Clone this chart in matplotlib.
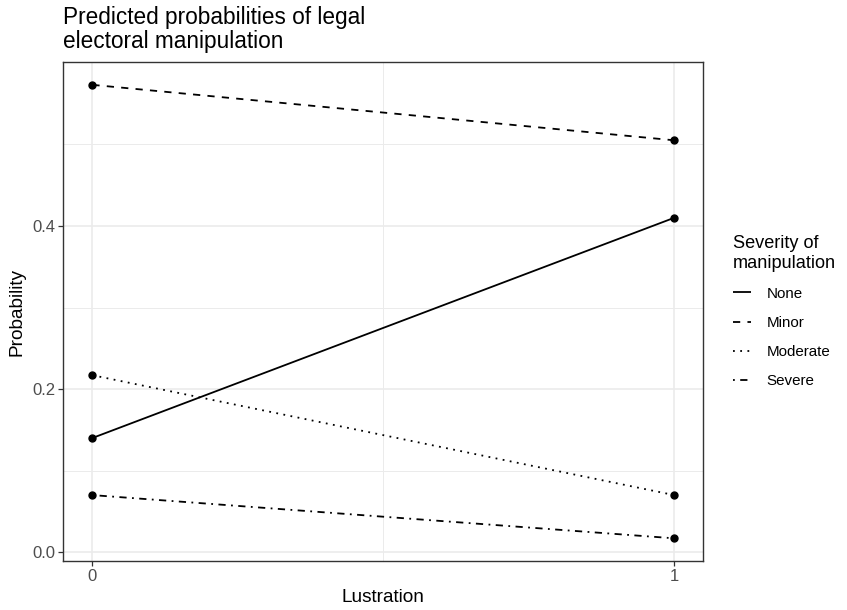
import matplotlib
matplotlib.use("Agg")
import matplotlib.pyplot as plt
from matplotlib.ticker import FixedLocator

plt.rcParams['font.family'] = ['Liberation Sans', 'DejaVu Sans']

# Data
lustration = [0, 1]
categories = ["None", "Minor", "Moderate", "Severe"]
none_vals = [0.140, 0.410]
minor_vals = [0.573, 0.505]
moderate_vals = [0.217, 0.070]
severe_vals = [0.070, 0.017]
series = [none_vals, minor_vals, moderate_vals, severe_vals]
x_ticks = [0, 1]
y_ticks = [0.0, 0.2, 0.4]

styles = ['-', (0, (4, 4)), (0, (1, 3)), (0, (1, 3, 4, 3))]

fig = plt.figure(figsize=(8.47, 6.10), dpi=100)
ax = fig.add_axes([63.3 / 847, 1 - 561 / 610, (703.3 - 63.3) / 847, (561 - 62) / 610])

ax.set_xlim(-0.05, 1.05)
ax.set_ylim(-0.0108, 0.601)

# grid
ax.set_xticks(x_ticks)
ax.set_yticks(y_ticks)
ax.xaxis.set_minor_locator(FixedLocator([0.5]))
ax.yaxis.set_minor_locator(FixedLocator([0.1, 0.3, 0.5]))
ax.grid(which='major', color='#EBEBEB', linewidth=1.2)
ax.grid(which='minor', color='#EBEBEB', linewidth=0.7)
ax.set_axisbelow(True)
ax.tick_params(which='minor', length=0)
ax.tick_params(which='major', length=3.5, width=0.9, color='#333333',
               labelcolor='#4D4D4D', labelsize=12, pad=2)
ax.set_xticklabels(['0', '1'])
ax.set_yticklabels(['0.0', '0.2', '0.4'])
for s in ax.spines.values():
    s.set_color('#333333')
    s.set_linewidth(1.0)

for cat, vals, ls in zip(categories, series, styles):
    ax.plot(lustration, vals, linestyle=ls, color='black', linewidth=1.3,
            solid_capstyle='butt', dash_capstyle='butt', label=cat)
    ax.plot(lustration, vals, linestyle='none', marker='o', color='black',
            markersize=5)

ax.set_xlabel('Lustration', fontsize=13.7, labelpad=4)
ax.set_ylabel('Probability', fontsize=13.7, labelpad=5)

fig.text(63 / 847, 1 - 6 / 610, 'Predicted probabilities of legal\nelectoral manipulation',
         fontsize=16.3, ha='left', va='top', linespacing=1.05)

leg = ax.legend(loc='upper left', bbox_to_anchor=(733 / 847, 1 - 235 / 610),
                bbox_transform=fig.transFigure, frameon=False,
                title='Severity of\nmanipulation', title_fontsize=13.1,
                fontsize=10.9, handlelength=1.2, labelspacing=1.0,
                handletextpad=1.0, borderaxespad=0, borderpad=0)
leg._legend_box.align = 'left'
leg.get_title().set_linespacing(1.2)

fig.savefig('out.png', dpi=100)
